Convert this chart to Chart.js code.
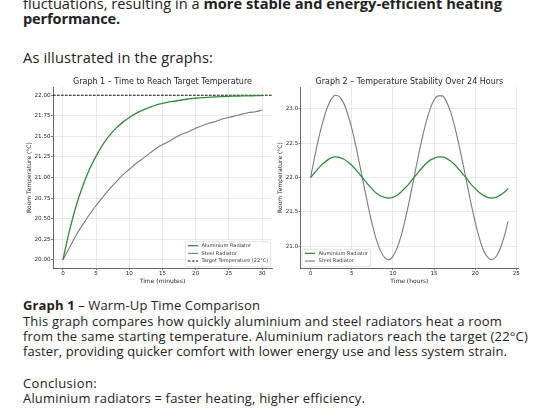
<!DOCTYPE html>
<html>
<head>
<meta charset="utf-8">
<script src="https://cdn.jsdelivr.net/npm/chart.js@4.4.0/dist/chart.umd.min.js"></script>
<style>
  html, body { margin: 0; padding: 0; background: #fff; }
  body { width: 550px; height: 412px; position: relative; overflow: hidden;
         font-family: "Open Sans", sans-serif; color: #222; }
  .ln { position: absolute; left: 23px; white-space: nowrap; line-height: 1; }
  .big { font-size: 14.6px; }
  .small { font-size: 13px; }
  canvas { position: absolute; }
</style>
</head>
<body>
<div class="ln big" style="top:-3.9px" data-w="479">fluctuations, resulting in a <b>more stable and energy-efficient heating</b></div>
<div class="ln big" style="top:11.1px" data-w="97"><b>performance.</b></div>
<div class="ln big" style="top:49.6px" data-w="190">As illustrated in the graphs:</div>

<canvas id="graph1" width="256" height="220" style="left:20px;top:70px"></canvas>
<canvas id="graph2" width="278" height="220" style="left:272px;top:70px"></canvas>

<div class="ln small" style="top:299.2px" data-w="237"><b>Graph 1</b> – Warm-Up Time Comparison</div>
<div class="ln small" style="top:314.5px" data-w="479">This graph compares how quickly aluminium and steel radiators heat a room</div>
<div class="ln small" style="top:329.8px" data-w="505">from the same starting temperature. Aluminium radiators reach the target (22°C)</div>
<div class="ln small" style="top:345.1px" data-w="484">faster, providing quicker comfort with lower energy use and less system strain.</div>
<div class="ln small" style="top:377px" data-w="74">Conclusion:</div>
<div class="ln small" style="top:392.3px" data-w="342">Aluminium radiators = faster heating, higher efficiency.</div>

<script>
// ---- Graph 1 data (minutes) ----
const minutes = [0, 1, 2, 3, 4, 5, 6, 7, 8, 9, 10, 11, 12, 13, 14, 15, 16, 17, 18, 19, 20,
                 21, 22, 23, 24, 25, 26, 27, 28, 29, 30];
const aluWarmup = [20.00, 20.36, 20.66, 20.90, 21.10, 21.26, 21.40, 21.51, 21.60, 21.67, 21.73,
                   21.78, 21.82, 21.85, 21.88, 21.90, 21.92, 21.93, 21.945, 21.955, 21.963,
                   21.97, 21.975, 21.98, 21.984, 21.987, 21.989, 21.991, 21.993, 21.994, 21.995];
const steelWarmup = [20.00, 20.15, 20.30, 20.43, 20.55, 20.66, 20.76, 20.86, 20.945, 21.03, 21.10,
                     21.17, 21.23, 21.29, 21.35, 21.40, 21.44, 21.49, 21.53, 21.56, 21.60,
                     21.63, 21.66, 21.68, 21.71, 21.73, 21.75, 21.77, 21.79, 21.80, 21.82];
const targetTemp = 22;
const xTicks1 = [0, 5, 10, 15, 20, 25, 30];
const yTicks1 = [20.00, 20.25, 20.50, 20.75, 21.00, 21.25, 21.50, 21.75, 22.00];

// ---- Graph 2 data (hours) ----
const hours = [0, 0.5, 1, 1.5, 2, 2.5, 3, 3.5, 4, 4.5, 5, 5.5, 6, 6.5, 7, 7.5, 8, 8.5, 9, 9.5,
               10, 10.5, 11, 11.5, 12, 12.5, 13, 13.5, 14, 14.5, 15, 15.5, 16, 16.5, 17, 17.5,
               18, 18.5, 19, 19.5, 20, 20.5, 21, 21.5, 22, 22.5, 23, 23.5, 24];
const aluDaily = [22.00, 22.07, 22.14, 22.20, 22.25, 22.285, 22.30, 22.295, 22.27, 22.23, 22.18,
                  22.115, 22.04, 21.97, 21.895, 21.83, 21.77, 21.73, 21.71, 21.70, 21.71, 21.74,
                  21.79, 21.85, 21.915, 21.99, 22.065, 22.135, 22.20, 22.25, 22.28, 22.30, 22.30,
                  22.28, 22.24, 22.19, 22.12, 22.05, 21.98, 21.90, 21.84, 21.78, 21.74, 21.71,
                  21.70, 21.71, 21.74, 21.78, 21.84];
const steelDaily = [22.00, 22.30, 22.58, 22.82, 23.01, 23.14, 23.20, 23.18, 23.09, 22.93, 22.72,
                    22.46, 22.17, 21.87, 21.58, 21.31, 21.09, 20.93, 20.83, 20.80, 20.85, 20.97,
                    21.15, 21.39, 21.66, 21.96, 22.26, 22.54, 22.79, 22.99, 23.13, 23.19, 23.19,
                    23.11, 22.96, 22.75, 22.49, 22.21, 21.91, 21.62, 21.35, 21.12, 20.94, 20.84,
                    20.80, 20.84, 20.95, 21.13, 21.36];
const xTicks2 = [0, 5, 10, 15, 20, 25];
const yTicks2 = [21.0, 21.5, 22.0, 22.5, 23.0];

const GREEN = '#338a3d';
const GREY = '#7a7a7a';
const AXIS = '#444';
const GRID = '#e0e0e0';
const TEXT = '#262626';
const FONT = '"DejaVu Sans", sans-serif';

// stretch text lines to the widths seen in the reference
document.querySelectorAll('.ln').forEach(el => {
  const target = +el.dataset.w;
  const w = el.getBoundingClientRect().width;
  const n = el.textContent.length;
  el.style.letterSpacing = ((target - w) / n) + 'px';
});

// title centred over the plot area (matplotlib style)
const axesTitle = {
  id: 'axesTitle',
  afterDraw(chart, args, opts) {
    const { ctx, chartArea } = chart;
    ctx.save();
    ctx.font = '8px ' + FONT;
    ctx.fillStyle = TEXT;
    ctx.textAlign = 'center';
    ctx.textBaseline = 'middle';
    ctx.fillText(opts.text, (chartArea.left + chartArea.right) / 2, chartArea.top - 5.5);
    ctx.restore();
  }
};

// legend drawn inside the plot, matplotlib-style
const boxLegend = {
  id: 'boxLegend',
  afterDraw(chart, args, opts) {
    const { ctx, chartArea } = chart;
    const items = chart.data.datasets.filter(d => d.label);
    ctx.save();
    ctx.font = '5px ' + FONT;
    const textW = Math.max(...items.map(d => ctx.measureText(d.label).width));
    const pad = 2.6, lineLen = 10.3, gap = 3.3, rowH = 7.65;
    const w = pad + lineLen + gap + textW + pad;
    const h = 9.7 + (items.length - 1) * rowH;
    const x = opts.corner === 'right' ? chartArea.right - 1.3 - w : chartArea.left + 1.6;
    const y = chartArea.bottom - 1.3 - h;
    ctx.beginPath();
    ctx.roundRect(x, y, w, h, 1.5);
    ctx.fillStyle = 'rgba(255,255,255,0.85)';
    ctx.fill();
    ctx.strokeStyle = '#d0d0d0';
    ctx.lineWidth = 0.6;
    ctx.stroke();
    items.forEach((d, i) => {
      const cy = y + 4 + i * rowH;
      ctx.beginPath();
      ctx.strokeStyle = d.borderColor;
      ctx.lineWidth = d.borderWidth;
      ctx.setLineDash(d.borderDash || []);
      ctx.moveTo(x + pad, cy);
      ctx.lineTo(x + pad + lineLen, cy);
      ctx.stroke();
      ctx.setLineDash([]);
      ctx.fillStyle = '#333';
      ctx.textBaseline = 'middle';
      ctx.fillText(d.label, x + pad + lineLen + gap, cy);
    });
    ctx.restore();
  }
};

function makeOptions(cfg) {
  return {
    responsive: false,
    animation: false,
    layout: { padding: { left: 0, right: cfg.padRight, top: 17, bottom: 0 } },
    plugins: {
      legend: { display: false },
      tooltip: { enabled: false },
      axesTitle: { text: cfg.title },
      boxLegend: { corner: cfg.corner }
    },
    scales: {
      x: {
        type: 'linear', min: cfg.xMin, max: cfg.xMax,
        afterFit: s => { s.height = 22; },
        afterBuildTicks: s => { s.ticks = cfg.xTicks.map(v => ({ value: v })); },
        ticks: { color: TEXT, font: { family: FONT, size: 5.6 }, padding: 0.4, maxRotation: 0 },
        grid: { color: GRID, lineWidth: 0.7, tickLength: 2, tickColor: AXIS, tickWidth: 0.7 },
        border: { color: AXIS, width: 0.8 },
        title: { display: true, text: cfg.xTitle, color: TEXT,
                 font: { family: FONT, size: 6 }, padding: { top: 0, bottom: 5.4 } }
      },
      y: {
        min: cfg.yMin, max: cfg.yMax,
        afterFit: s => { s.width = cfg.yWidth; },
        afterBuildTicks: s => { s.ticks = cfg.yTicks.map(v => ({ value: v })); },
        ticks: { color: TEXT, font: { family: FONT, size: 5.6 }, padding: 0.5,
                 callback: v => v.toFixed(cfg.yDigits) },
        grid: { color: GRID, lineWidth: 0.7, tickLength: 2, tickColor: AXIS, tickWidth: 0.7 },
        border: { color: AXIS, width: 0.8 },
        title: { display: true, text: 'Room Temperature (°C)', color: TEXT,
                 font: { family: FONT, size: 6 }, padding: { top: cfg.yTitlePad, bottom: 0 } }
      }
    }
  };
}

// ---- Graph 1 ----
new Chart(document.getElementById('graph1'), {
  type: 'line',
  data: {
    datasets: [
      { label: 'Aluminium Radiator', data: minutes.map((m, i) => ({ x: m, y: aluWarmup[i] })),
        borderColor: GREEN, borderWidth: 1.3, pointRadius: 0, cubicInterpolationMode: 'monotone' },
      { label: 'Steel Radiator', data: minutes.map((m, i) => ({ x: m, y: steelWarmup[i] })),
        borderColor: GREY, borderWidth: 1.1, pointRadius: 0, cubicInterpolationMode: 'monotone' },
      { label: 'Target Temperature (22°C)',
        data: [{ x: -1.5, y: targetTemp }, { x: 31.5, y: targetTemp }],
        borderColor: '#111', borderWidth: 1, borderDash: [2.6, 1.4], pointRadius: 0 }
    ]
  },
  options: makeOptions({
    title: 'Graph 1 – Time to Reach Target Temperature', xTitle: 'Time (minutes)',
    xMin: -1.5, xMax: 31.5, yMin: 19.9, yMax: 22.1, xTicks: xTicks1, yTicks: yTicks1,
    yDigits: 2, yWidth: 33, yTitlePad: 5.9, padRight: 4, corner: 'right'
  }),
  plugins: [axesTitle, boxLegend]
});

// ---- Graph 2 ----
new Chart(document.getElementById('graph2'), {
  type: 'line',
  data: {
    datasets: [
      { label: 'Aluminium Radiator', data: hours.map((h, i) => ({ x: h, y: aluDaily[i] })),
        borderColor: GREEN, borderWidth: 1.3, pointRadius: 0, cubicInterpolationMode: 'monotone' },
      { label: 'Steel Radiator', data: hours.map((h, i) => ({ x: h, y: steelDaily[i] })),
        borderColor: GREY, borderWidth: 1.1, pointRadius: 0, cubicInterpolationMode: 'monotone' }
    ]
  },
  options: makeOptions({
    title: 'Graph 2 – Temperature Stability Over 24 Hours', xTitle: 'Time (hours)',
    xMin: -1.2, xMax: 25.2, yMin: 20.68, yMax: 23.32, xTicks: xTicks2, yTicks: yTicks2,
    yDigits: 1, yWidth: 28.7, yTitlePad: 4.4, padRight: 32, corner: 'left'
  }),
  plugins: [axesTitle, boxLegend]
});
</script>
</body>
</html>
